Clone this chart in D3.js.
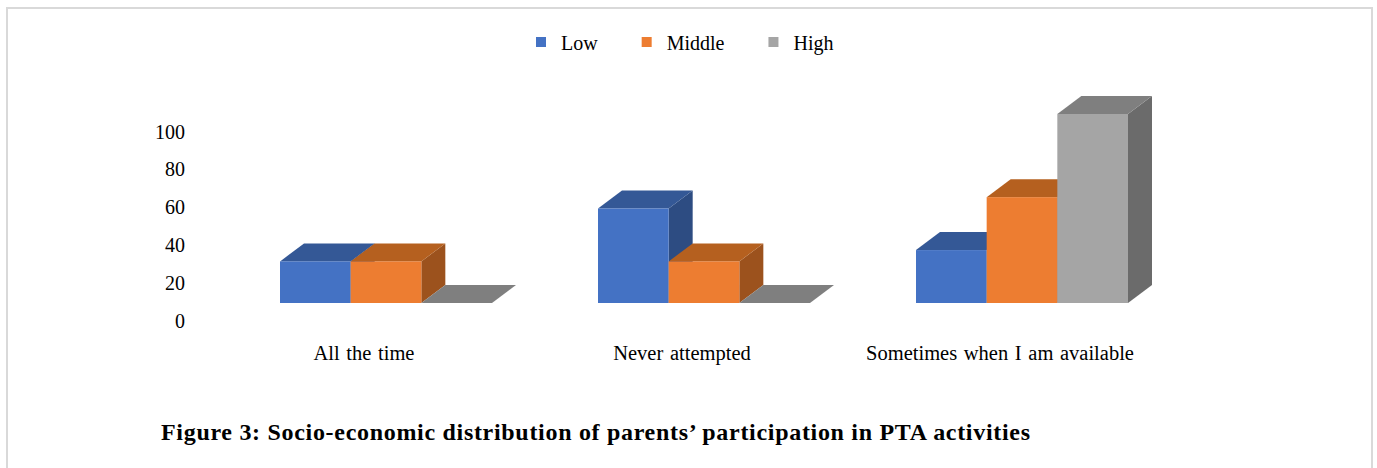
<!DOCTYPE html>
<html>
<head>
<meta charset="utf-8">
<script src="https://cdn.jsdelivr.net/npm/d3@7"></script>
<style>
  html, body { margin: 0; padding: 0; background: #fff; }
  svg { display: block; }
  text { font-family: "Liberation Serif", "Times New Roman", serif; fill: #000; }
</style>
</head>
<body>
<script>
// Chart data
const categories = ["All the time", "Never attempted", "Sometimes when I am available"];
const seriesNames = ["Low", "Middle", "High"];
const lowValues = [22, 50, 28];
const middleValues = [22, 22, 56];
const highValues = [0, 0, 100];
const yTicks = [0, 20, 40, 60, 80, 100];
const titleText = "Figure 3: Socio-economic distribution of parents\u2019 participation in PTA activities";

const W = 1377, H = 468;
const svg = d3.select("body").append("svg").attr("width", W).attr("height", H);

// outer frame
svg.append("rect")
  .attr("x", 7).attr("y", 8).attr("width", 1365).attr("height", 520)
  .attr("fill", "#fff").attr("stroke", "#d9d9d9").attr("stroke-width", 2);

// face colours: front, top, side
const palette = {
  Low:    { front: "#4472C4", top: "#345896", side: "#2D4C82" },
  Middle: { front: "#ED7D31", top: "#B5601F", side: "#9C521D" },
  High:   { front: "#A5A5A5", top: "#7F7F7F", side: "#6B6B6B" }
};

const seriesValues = { Low: lowValues, Middle: middleValues, High: highValues };
const rows = categories.map((c, i) => ({
  category: c,
  values: seriesNames.map(s => ({ series: s, value: seriesValues[s][i] }))
}));

// scales
const x0 = d3.scaleBand().domain(categories).range([227, 1181])
  .paddingInner(1 / 3).paddingOuter(1 / 6);
const x1 = d3.scaleBand().domain(seriesNames).range([0, x0.bandwidth()]).padding(0);
const y = d3.scaleLinear().domain([0, 100]).range([303, 114]);

// oblique depth of the 3D blocks
const DX = 24, DY = 18;

// y axis labels (no line, no ticks)
const yAxis = d3.axisLeft(y).tickValues(yTicks).tickSize(0).tickPadding(0);
const gy = svg.append("g").attr("transform", "translate(185,24)").call(yAxis);
gy.select(".domain").remove();
gy.selectAll("text")
  .attr("dy", null).attr("x", 0)
  .style("font-family", '"Liberation Serif", "Times New Roman", serif')
  .style("font-size", "20px").attr("fill", "#000");

// bars, painted left to right so right-hand blocks cover the sides of left ones
const groups = svg.append("g").selectAll("g.grp").data(rows).join("g")
  .attr("class", "grp")
  .attr("transform", d => `translate(${x0(d.category)},0)`);

groups.each(function (row) {
  const g = d3.select(this);
  row.values.forEach(v => {
    const c = palette[v.series];
    const xl = x1(v.series), xr = xl + x1.bandwidth();
    const yt = y(v.value), yb = y(0);
    const b = g.append("g");
    if (v.value > 0) {
      // right side face
      b.append("path")
        .attr("d", `M${xr},${yb} L${xr + DX},${yb - DY} L${xr + DX},${yt - DY} L${xr},${yt} Z`)
        .attr("fill", c.side);
    }
    // top face
    b.append("path")
      .attr("d", `M${xl},${yt} L${xl + DX},${yt - DY} L${xr + DX},${yt - DY} L${xr},${yt} Z`)
      .attr("fill", c.top);
    if (v.value > 0) {
      // front face
      b.append("rect")
        .attr("x", xl).attr("y", yt)
        .attr("width", x1.bandwidth()).attr("height", yb - yt)
        .attr("fill", c.front);
    }
  });
});

// category labels
svg.append("g").selectAll("text").data(categories).join("text")
  .attr("x", d => x0(d) + x0.bandwidth() / 2 - 22)
  .attr("y", 360)
  .attr("text-anchor", "middle")
  .style("font-size", "20.5px")
  .style("word-spacing", "1.5px")
  .text(d => d);

// legend
const legend = svg.append("g").attr("transform", "translate(536,0)");
let lx = 0;
seriesNames.forEach(s => {
  const item = legend.append("g").attr("transform", `translate(${lx},0)`);
  item.append("rect").attr("x", 0).attr("y", 37).attr("width", 10).attr("height", 10)
    .attr("fill", palette[s].front);
  const t = item.append("text").attr("x", 25).attr("y", 50).style("font-size", "20px").text(s);
  lx += 25 + t.node().getComputedTextLength() + 44;
});

// caption
svg.append("text")
  .attr("x", 161).attr("y", 440)
  .attr("textLength", 869).attr("lengthAdjust", "spacing")
  .style("font-size", "24px").style("font-weight", "bold")
  .text(titleText);
</script>
</body>
</html>
